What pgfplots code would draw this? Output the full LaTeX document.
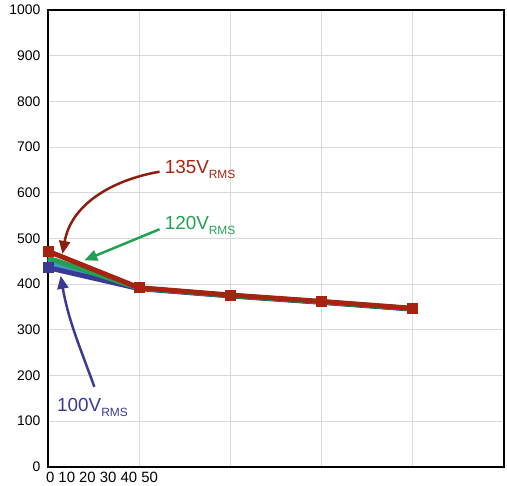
\documentclass[border=0pt]{standalone}
\usepackage{pgfplots}
\pgfplotsset{compat=1.18}
\usepackage{fontspec}
\setmainfont{Liberation Sans}
\usetikzlibrary{arrows.meta}
\definecolor{cred}{RGB}{165,35,15}
\definecolor{cgreen}{RGB}{34,160,84}
\definecolor{cteal}{RGB}{70,150,190}
\definecolor{cblue}{RGB}{58,58,150}
\begin{document}
\begin{tikzpicture}
\begin{axis}[
  scale only axis,
  width=457bp, height=458bp,
  xmin=0, xmax=5, ymin=0, ymax=1000,
  xtick={0,1,2,3,4,5}, xticklabels={},
  ytick={0,100,...,1000},
  grid=major,
  major grid style={gray!30, line width=0.8bp},
  axis line style={black, line width=1.8bp},
  tick style={draw=none},
  /pgf/number format/assume math mode=true,
  ticklabel style={font=\fontsize{14}{14}\selectfont},
  yticklabel style={/pgf/number format/1000 sep={}, xshift=-4bp},
  clip=false,
]
\addplot[cteal, line width=5bp] coordinates {(0,447) (1,391) (2,375) (3,361) (4,346)};
\addplot[cblue, line width=5bp, mark=square*, mark size=5bp, mark options={line width=0.5bp}, mark indices={1}] coordinates {(0,436) (1,390) (2,374) (3,360) (4,345)};
\addplot[cgreen, line width=5bp] coordinates {(0,457) (1,391) (2,375) (3,361) (4,346)};
\addplot[cred, line width=5bp, mark=square*, mark size=5bp, mark options={line width=0.5bp}] coordinates {(0,472) (1,392) (2,376) (3,362) (4,347)};

\node[anchor=north west, font=\fontsize{15}{15}\selectfont, inner sep=0pt] at (axis cs:0,0) [xshift=-2bp, yshift=-5bp] {0 10 20 30 40 50};

\node[anchor=west, text=cred, font=\fontsize{19}{19}\selectfont, inner sep=0pt] at (axis cs:1.28,651) {135V\raisebox{-0.55ex}{\fontsize{12}{12}\selectfont RMS}};
\draw[cred!85!black, line width=2.5bp, -{Triangle[length=13bp,width=11bp]}] (axis cs:1.225,646) to[out=190,in=80] (axis cs:0.16,466);

\node[anchor=west, text=cgreen, font=\fontsize{19}{19}\selectfont, inner sep=0pt] at (axis cs:1.28,528) {120V\raisebox{-0.55ex}{\fontsize{12}{12}\selectfont RMS}};
\draw[cgreen, line width=2.5bp, -{Triangle[length=13bp,width=11bp]}] (axis cs:1.225,520) -- (axis cs:0.40,452);

\node[anchor=west, text=cblue, font=\fontsize{19}{19}\selectfont, inner sep=0pt] at (axis cs:0.1,130) {100V\raisebox{-0.55ex}{\fontsize{12}{12}\selectfont RMS}};
\draw[cblue, line width=2.5bp, -{Triangle[length=13bp,width=11bp]}] (axis cs:0.51,175) to[out=110,in=-80] (axis cs:0.14,418);
\end{axis}
\path (current axis.south west) ++(-48bp,-19bp) coordinate (bbA);
\path (current axis.north east) ++(2bp,10bp) coordinate (bbB);
\path (bbA) rectangle (bbB);
\end{tikzpicture}
\end{document}
